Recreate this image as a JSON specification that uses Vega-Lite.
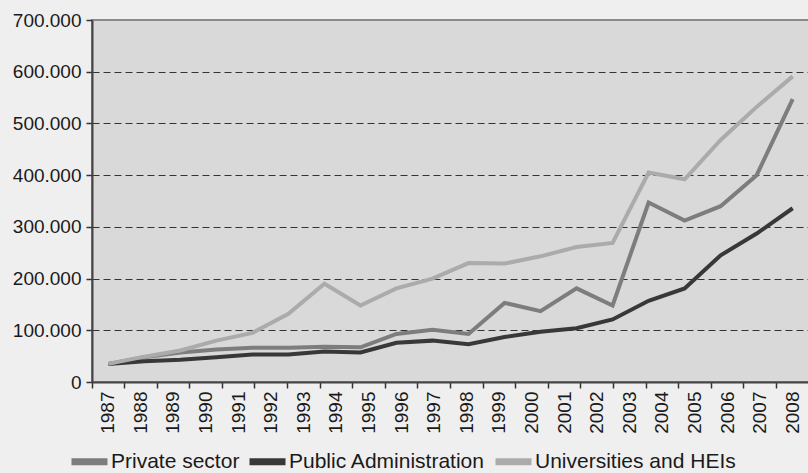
{
  "$schema": "https://vega.github.io/schema/vega-lite/v6.json",
  "width": 717,
  "height": 362,
  "autosize": "none",
  "padding": {"left": 92, "top": 20, "right": 0, "bottom": 91},
  "background": "#efefef",
  "view": {"fill": "#d9d9d9", "stroke": "#8a8a8a", "strokeWidth": 2},
  "config": {
    "font": "Liberation Sans"
  },
  "datasets": {
    "years": [
      {"year": "1987"}, {"year": "1988"}, {"year": "1989"}, {"year": "1990"}, {"year": "1991"}, {"year": "1992"},
      {"year": "1993"}, {"year": "1994"}, {"year": "1995"}, {"year": "1996"}, {"year": "1997"}, {"year": "1998"},
      {"year": "1999"}, {"year": "2000"}, {"year": "2001"}, {"year": "2002"}, {"year": "2003"}, {"year": "2004"},
      {"year": "2005"}, {"year": "2006"}, {"year": "2007"}, {"year": "2008"}
    ],
    "series": [
      {"obs": 1, "sector": "Private sector", "value": 35000},
      {"obs": 2, "sector": "Private sector", "value": 48000},
      {"obs": 3, "sector": "Private sector", "value": 57000},
      {"obs": 4, "sector": "Private sector", "value": 63000},
      {"obs": 5, "sector": "Private sector", "value": 66000},
      {"obs": 6, "sector": "Private sector", "value": 66000},
      {"obs": 7, "sector": "Private sector", "value": 68000},
      {"obs": 8, "sector": "Private sector", "value": 67000},
      {"obs": 9, "sector": "Private sector", "value": 93000},
      {"obs": 10, "sector": "Private sector", "value": 101000},
      {"obs": 11, "sector": "Private sector", "value": 93000},
      {"obs": 12, "sector": "Private sector", "value": 153000},
      {"obs": 13, "sector": "Private sector", "value": 137000},
      {"obs": 14, "sector": "Private sector", "value": 181000},
      {"obs": 15, "sector": "Private sector", "value": 148000},
      {"obs": 16, "sector": "Private sector", "value": 347000},
      {"obs": 17, "sector": "Private sector", "value": 312000},
      {"obs": 18, "sector": "Private sector", "value": 340000},
      {"obs": 19, "sector": "Private sector", "value": 400000},
      {"obs": 20, "sector": "Private sector", "value": 547000},
      {"obs": 1, "sector": "Public Administration", "value": 35000},
      {"obs": 2, "sector": "Public Administration", "value": 40000},
      {"obs": 3, "sector": "Public Administration", "value": 43000},
      {"obs": 4, "sector": "Public Administration", "value": 48000},
      {"obs": 5, "sector": "Public Administration", "value": 53000},
      {"obs": 6, "sector": "Public Administration", "value": 53000},
      {"obs": 7, "sector": "Public Administration", "value": 59000},
      {"obs": 8, "sector": "Public Administration", "value": 57000},
      {"obs": 9, "sector": "Public Administration", "value": 76000},
      {"obs": 10, "sector": "Public Administration", "value": 80000},
      {"obs": 11, "sector": "Public Administration", "value": 73000},
      {"obs": 12, "sector": "Public Administration", "value": 87000},
      {"obs": 13, "sector": "Public Administration", "value": 97000},
      {"obs": 14, "sector": "Public Administration", "value": 104000},
      {"obs": 15, "sector": "Public Administration", "value": 121000},
      {"obs": 16, "sector": "Public Administration", "value": 157000},
      {"obs": 17, "sector": "Public Administration", "value": 181000},
      {"obs": 18, "sector": "Public Administration", "value": 245000},
      {"obs": 19, "sector": "Public Administration", "value": 287000},
      {"obs": 20, "sector": "Public Administration", "value": 336000},
      {"obs": 1, "sector": "Universities and HEIs", "value": 35000},
      {"obs": 2, "sector": "Universities and HEIs", "value": 49000},
      {"obs": 3, "sector": "Universities and HEIs", "value": 61000},
      {"obs": 4, "sector": "Universities and HEIs", "value": 80000},
      {"obs": 5, "sector": "Universities and HEIs", "value": 95000},
      {"obs": 6, "sector": "Universities and HEIs", "value": 132000},
      {"obs": 7, "sector": "Universities and HEIs", "value": 190000},
      {"obs": 8, "sector": "Universities and HEIs", "value": 148000},
      {"obs": 9, "sector": "Universities and HEIs", "value": 181000},
      {"obs": 10, "sector": "Universities and HEIs", "value": 200000},
      {"obs": 11, "sector": "Universities and HEIs", "value": 230000},
      {"obs": 12, "sector": "Universities and HEIs", "value": 229000},
      {"obs": 13, "sector": "Universities and HEIs", "value": 243000},
      {"obs": 14, "sector": "Universities and HEIs", "value": 261000},
      {"obs": 15, "sector": "Universities and HEIs", "value": 269000},
      {"obs": 16, "sector": "Universities and HEIs", "value": 405000},
      {"obs": 17, "sector": "Universities and HEIs", "value": 392000},
      {"obs": 18, "sector": "Universities and HEIs", "value": 468000},
      {"obs": 19, "sector": "Universities and HEIs", "value": 532000},
      {"obs": 20, "sector": "Universities and HEIs", "value": 591000}
    ]
  },
  "layer": [
    {
      "data": {"name": "years"},
      "mark": {"type": "rule", "opacity": 0},
      "encoding": {
        "x": {
          "field": "year",
          "type": "ordinal",
          "scale": {"type": "band", "paddingInner": 0, "paddingOuter": 0},
          "axis": {
            "title": null,
            "labelAngle": -90,
            "labelFontSize": 19,
            "labelColor": "#1a1a1a",
            "labelPadding": 3,
            "bandPosition": 0,
            "tickSize": 6,
            "tickColor": "#333333",
            "tickWidth": 1.5,
            "domainColor": "#444444",
            "domainWidth": 2,
            "grid": false
          }
        }
      }
    },
    {
      "data": {"name": "series"},
      "mark": {"type": "line", "strokeWidth": 4},
      "encoding": {
        "x": {
          "field": "obs",
          "type": "ordinal",
          "scale": {"type": "point", "padding": 0.453},
          "axis": null
        },
        "y": {
          "field": "value",
          "type": "quantitative",
          "scale": {"domain": [0, 700000], "nice": false},
          "axis": {
            "title": null,
            "values": [0, 100000, 200000, 300000, 400000, 500000, 600000, 700000],
            "labelExpr": "replace(format(datum.value, ','), ',', '.')",
            "labelFontSize": 19,
            "labelColor": "#1a1a1a",
            "labelPadding": 5,
            "tickSize": 6,
            "tickColor": "#333333",
            "tickWidth": 1.5,
            "domainColor": "#444444",
            "domainWidth": 2,
            "grid": true,
            "gridColor": "#333333",
            "gridDash": [7, 4],
            "gridWidth": 1.2,
            "gridOpacity": {"condition": {"test": "datum.value === 0 || datum.value === 700000", "value": 0}, "value": 1}
          }
        },
        "color": {
          "field": "sector",
          "type": "nominal",
          "scale": {
            "domain": ["Private sector", "Public Administration", "Universities and HEIs"],
            "range": ["#7d7d7d", "#383838", "#ababab"]
          },
          "legend": {
            "title": null,
            "orient": "none",
            "direction": "horizontal",
            "legendX": -24,
            "legendY": 420,
            "symbolType": "stroke",
            "symbolSize": 1296,
            "symbolStrokeWidth": 7,
            "symbolOpacity": 1,
            "labelFontSize": 21,
            "labelColor": "#1a1a1a",
            "labelOffset": 0,
            "labelLimit": 0,
            "columnPadding": -5
          }
        }
      }
    }
  ],
  "resolve": {"scale": {"x": "independent"}, "axis": {"x": "independent"}}
}
